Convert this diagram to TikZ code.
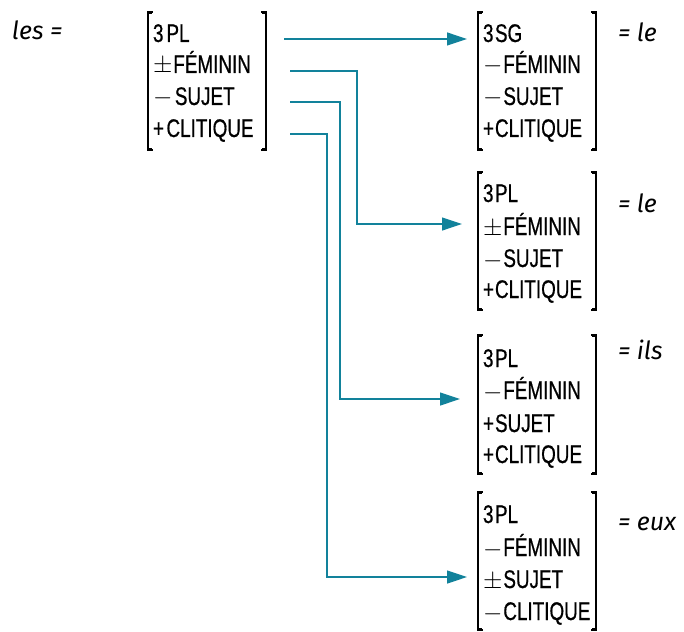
\documentclass[tikz,border=0pt]{standalone}
\usepackage{fontspec}
\usetikzlibrary{arrows.meta}
\newfontfamily\featfont[FakeStretch=0.74,FakeBold=0.6]{Liberation Sans}
\newfontfamily\labfont{Fira Sans}
\definecolor{arrowteal}{RGB}{18,130,155}
\tikzset{
  feat/.style={anchor=base west, inner sep=0pt, outer sep=0pt, font=\featfont\fontsize{25.5}{29}\selectfont},
  eqlab/.style={anchor=base west, inner sep=0pt, outer sep=0pt, font=\labfont\itshape\fontsize{25}{30}\selectfont},
  conn/.style={draw=arrowteal, line width=1.2pt, -{Triangle[length=20pt,width=13pt]}, arrowteal},
  brk/.style={line width=1.8pt, line cap=rect},
}
\newcommand\featbrackets[4]{% left x, right x, top y, bottom y
  \draw[brk] (#1+4,#3) -- (#1,#3) -- (#1,#4) -- (#1+4,#4);
  \draw[brk] (#2-4,#3) -- (#2,#3) -- (#2,#4) -- (#2-4,#4);
  \draw[line width=3.2pt] (#1-0.5,#3+0.6) -- (#1+4,#3+0.6);
  \draw[line width=3.2pt] (#1-0.5,#4-0.6) -- (#1+4,#4-0.6);
  \draw[line width=3.2pt] (#2+0.5,#3+0.6) -- (#2-4,#3+0.6);
  \draw[line width=3.2pt] (#2+0.5,#4-0.6) -- (#2-4,#4-0.6);
}
\begin{document}
\begin{tikzpicture}[x=1pt, y=-1pt]
\useasboundingbox (0,0) rectangle (684,631);
% left label
\node[eqlab] (les) at (12,40) {les =};
% source matrix
\featbrackets{148}{266}{12}{150}
\node[feat] (m0r1) at (153,42) {3\kern3pt PL};
\node[feat] (m0r2) at (153,73) {$\pm$\kern1pt FÉMININ};
\node[feat] (m0r3) at (153,105) {$-$\kern2.5pt SUJET};
\node[feat] (m0r4) at (153,137) {+\kern2.5pt CLITIQUE};
% target 1
\featbrackets{478}{596}{12}{150}
\node[feat] (m1r1) at (483,42) {3\kern1.5pt SG};
\node[feat] (m1r2) at (483,73) {$-$\kern1pt FÉMININ};
\node[feat] (m1r3) at (483,105) {$-$\kern1pt SUJET};
\node[feat] (m1r4) at (483,137) {+\kern1pt CLITIQUE};
\node[eqlab] (l1) at (618,42) {= le};
% target 2
\featbrackets{478}{596}{172}{310}
\node[feat] (m2r1) at (483,202) {3\kern1.5pt PL};
\node[feat] (m2r2) at (483,235) {$\pm$\kern1pt FÉMININ};
\node[feat] (m2r3) at (483,267) {$-$\kern1pt SUJET};
\node[feat] (m2r4) at (483,298) {+\kern1pt CLITIQUE};
\node[eqlab] (l2) at (618,212) {= le};
% target 3
\featbrackets{478}{596}{335}{474}
\node[feat] (m3r1) at (483,367) {3\kern1.5pt PL};
\node[feat] (m3r2) at (483,399) {$-$\kern1pt FÉMININ};
\node[feat] (m3r3) at (483,432) {+\kern1pt SUJET};
\node[feat] (m3r4) at (483,463) {+\kern1pt CLITIQUE};
\node[eqlab] (l3) at (618,359) {= ils};
% target 4
\featbrackets{478}{596}{492}{630}
\node[feat] (m4r1) at (483,523) {3\kern1.5pt PL};
\node[feat] (m4r2) at (483,556) {$-$\kern1pt FÉMININ};
\node[feat] (m4r3) at (483,588) {$\pm$\kern1pt SUJET};
\node[feat] (m4r4) at (483,620) {$-$\kern1pt CLITIQUE};
\node[eqlab] (l4) at (618,530) {= eux};
% connector end points
\coordinate (s1) at (284,39);  \coordinate (t1) at (467,39);
\coordinate (s2) at (290,71);  \coordinate (b2) at (357,71);  \coordinate (t2) at (462,224);
\coordinate (s3) at (290,102); \coordinate (b3) at (340,102); \coordinate (t3) at (460,399);
\coordinate (s4) at (290,134); \coordinate (b4) at (327,134); \coordinate (t4) at (467,577);
\draw[conn] (s1) -- (t1);
\draw[conn] (s2) -- (b2) |- (t2);
\draw[conn] (s3) -- (b3) |- (t3);
\draw[conn] (s4) -- (b4) |- (t4);
\end{tikzpicture}
\end{document}
